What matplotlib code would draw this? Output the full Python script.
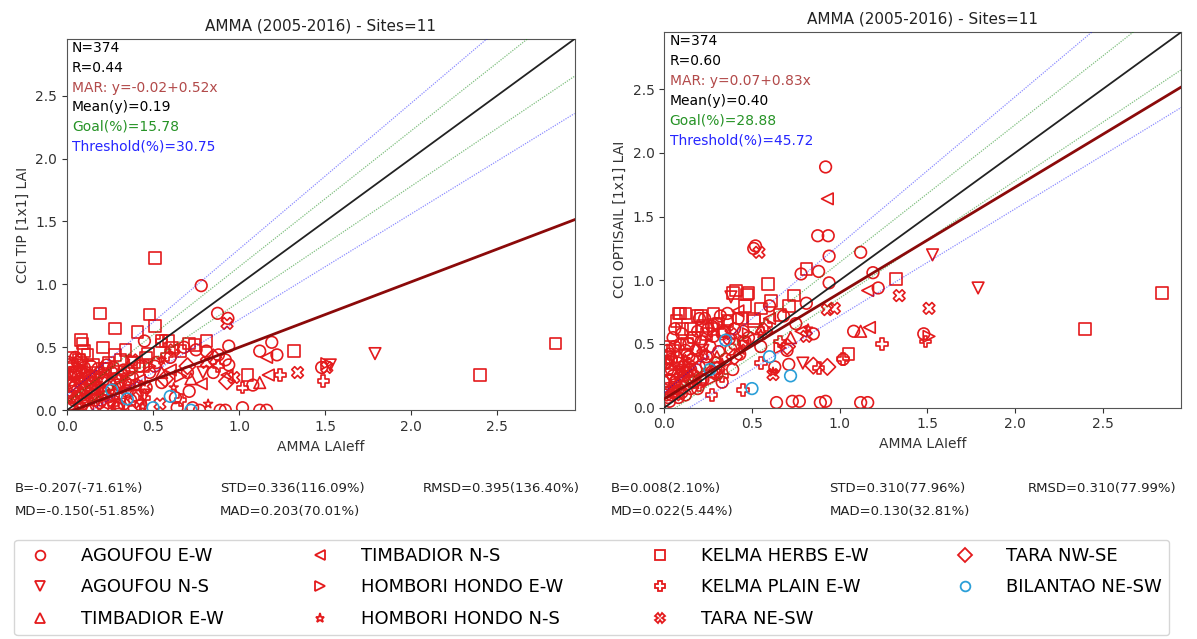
import numpy as np
import matplotlib.pyplot as plt
from matplotlib.lines import Line2D

# ground LAIeff (x) shared by both products, CCI TIP (tip) and CCI OPTISAIL (opt) values
agoufou_ew_x = [0.78, 0.875, 0.935, 1.12, 1.19, 1.22, 1.48, 0.94, 0.94, 0.81, 0.71, 0.77, 0.89, 0.92,
                1.12, 1.16, 0.64, 0.73, 0.92, 0.51, 0.52, 0.88, 1.08, 1.02, 0.45, 0.68, 0.75, 0.60,
                0.70, 0.85, 0.63, 0.55, 0.48, 0.40,
                0.02, 0.03, 0.04, 0.05, 0.06, 0.07, 0.08, 0.09, 0.10, 0.11, 0.12, 0.13, 0.14, 0.15,
                0.16, 0.17, 0.18, 0.19, 0.20, 0.21, 0.22, 0.23, 0.24, 0.25, 0.26, 0.27, 0.28, 0.29,
                0.30, 0.31, 0.32, 0.33, 0.34, 0.35, 0.36, 0.37, 0.38, 0.40, 0.42, 0.43, 0.46, 0.01,
                0.01, 0.02, 0.03, 0.05, 0.06, 0.08, 0.09, 0.10, 0.12, 0.14, 0.16, 0.18, 0.20, 0.24,
                0.27, 0.30, 0.33, 0.36, 0.39,
                0.00, 0.01, 0.02, 0.03, 0.04, 0.05, 0.06, 0.07, 0.00, 0.02, 0.04, 0.06, 0.08, 0.10,
                0.11, 0.13, 0.15, 0.17, 0.19, 0.21]
agoufou_ew_tip = [0.99, 0.77, 0.73, 0.47, 0.54, 0.44, 0.34, 0.51, 0.36, 0.47, 0.15, 0.00, 0.00, 0.00,
                  0.00, 0.00, 0.02, 0.02, 0.40, 0.35, 0.38, 0.44, 0.20, 0.02, 0.55, 0.50, 0.48, 0.42,
                  0.30, 0.30, 0.10, 0.22, 0.30, 0.20,
                  0.05, 0.15, 0.28, 0.20, 0.10, 0.32, 0.25, 0.05, 0.18, 0.30, 0.08, 0.22, 0.35, 0.12,
                  0.27, 0.04, 0.18, 0.30, 0.08, 0.24, 0.14, 0.36, 0.06, 0.20, 0.30, 0.12, 0.25, 0.02,
                  0.18, 0.10, 0.28, 0.05, 0.22, 0.15, 0.32, 0.08, 0.26, 0.12, 0.35, 0.04, 0.18, 0.38,
                  0.22, 0.30, 0.02, 0.42, 0.16, 0.40, 0.12, 0.34, 0.02, 0.16, 0.08, 0.33, 0.26, 0.16,
                  0.34, 0.04, 0.32, 0.20, 0.02,
                  0.12, 0.02, 0.20, 0.35, 0.08, 0.30, 0.38, 0.14, 0.28, 0.10, 0.18, 0.26, 0.02, 0.08,
                  0.14, 0.28, 0.22, 0.12, 0.06, 0.03]
agoufou_ew_opt = [1.05, 1.35, 1.35, 1.22, 1.06, 0.94, 0.58, 1.19, 0.98, 0.82, 0.34, 0.05, 0.04, 0.05,
                  0.04, 0.04, 0.04, 0.05, 1.89, 1.25, 1.27, 1.07, 0.60, 0.38, 0.60, 0.72, 0.66, 0.80,
                  0.45, 0.58, 0.32, 0.48, 0.55, 0.50,
                  0.08, 0.22, 0.30, 0.12, 0.18, 0.40, 0.35, 0.25, 0.20, 0.32, 0.45, 0.28, 0.50, 0.15,
                  0.38, 0.25, 0.45, 0.60, 0.32, 0.52, 0.22, 0.70, 0.40, 0.62, 0.48, 0.28, 0.56, 0.35,
                  0.66, 0.44, 0.72, 0.20, 0.60, 0.38, 0.68, 0.54, 0.46, 0.62, 0.70, 0.42, 0.52, 0.10,
                  0.35, 0.45, 0.05, 0.55, 0.62, 0.15, 0.50, 0.58, 0.10, 0.40, 0.55, 0.30, 0.70, 0.34,
                  0.64, 0.26, 0.58, 0.74, 0.30,
                  0.20, 0.12, 0.30, 0.42, 0.10, 0.25, 0.48, 0.22, 0.35, 0.15, 0.38, 0.20, 0.08, 0.12,
                  0.25, 0.42, 0.30, 0.20, 0.15, 0.22]

agoufou_ns_x = [1.79, 1.53, 0.38, 0.79, 0.14, 0.22, 0.31, 0.45, 0.09]
agoufou_ns_tip = [0.45, 0.36, 0.38, 0.30, 0.26, 0.33, 0.20, 0.12, 0.36]
agoufou_ns_opt = [0.94, 1.20, 0.87, 0.35, 0.20, 0.45, 0.31, 0.48, 0.28]

timbadior_ew_x = [1.12, 0.72, 0.16, 0.05, 0.30, 0.55]
timbadior_ew_tip = [0.22, 0.25, 0.18, 0.10, 0.06, 0.30]
timbadior_ew_opt = [0.60, 0.55, 0.30, 0.15, 0.40, 0.62]

timbadior_ns_x = [1.16, 0.93, 1.17, 0.78, 0.60, 0.42, 0.21, 0.08]
timbadior_ns_tip = [0.42, 0.28, 0.28, 0.21, 0.32, 0.24, 0.12, 0.20]
timbadior_ns_opt = [0.92, 1.64, 0.63, 0.60, 0.70, 0.76, 0.42, 0.25]

hombori_ew_x = [1.51, 0.66, 0.27, 0.12, 0.48]
hombori_ew_tip = [0.37, 0.27, 0.10, 0.30, 0.35]
hombori_ew_opt = [0.56, 0.47, 0.22, 0.30, 0.58]

hombori_ns_x = [0.62, 0.82, 0.18, 0.33, 0.44, 0.06, 0.25, 0.55, 0.12]
hombori_ns_tip = [0.18, 0.05, 0.22, 0.17, 0.03, 0.25, 0.28, 0.40, 0.12]
hombori_ns_opt = [0.28, 0.62, 0.18, 0.35, 0.45, 0.10, 0.55, 0.58, 0.38]

kelma_herbs_x = [2.84, 2.40, 1.32, 0.51, 0.19, 0.28, 0.48, 0.51, 0.41, 0.21, 0.34, 0.28, 0.08, 0.09,
                 0.81, 1.05, 0.59, 0.47, 0.39, 0.46, 0.61, 0.74, 0.07, 0.12, 0.03, 0.05, 0.15, 0.24,
                 0.36, 0.44, 0.02, 0.10, 0.17, 0.31, 0.55, 0.66, 0.13, 0.04, 0.22, 0.71]
kelma_herbs_tip = [0.53, 0.28, 0.47, 1.21, 0.77, 0.65, 0.76, 0.67, 0.62, 0.50, 0.48, 0.44, 0.56, 0.53,
                   0.55, 0.28, 0.55, 0.45, 0.38, 0.42, 0.50, 0.52, 0.40, 0.44, 0.36, 0.30, 0.36, 0.38,
                   0.25, 0.35, 0.42, 0.47, 0.30, 0.40, 0.55, 0.47, 0.25, 0.20, 0.33, 0.53]
kelma_herbs_opt = [0.90, 0.62, 1.01, 0.70, 0.72, 0.74, 0.90, 0.68, 0.92, 0.72, 0.60, 0.62, 0.74, 0.74,
                   1.09, 0.42, 0.97, 0.89, 0.90, 0.80, 0.84, 0.88, 0.68, 0.74, 0.48, 0.45, 0.62, 0.58,
                   0.68, 0.70, 0.40, 0.62, 0.55, 0.66, 0.78, 0.73, 0.50, 0.35, 0.64, 0.80]

kelma_plain_x = [1.49, 1.24, 1.02, 0.55, 0.33, 0.45, 0.20, 0.12, 0.66, 0.88, 0.27, 0.58]
kelma_plain_tip = [0.23, 0.28, 0.18, 0.55, 0.30, 0.10, 0.14, 0.22, 0.08, 0.35, 0.05, 0.44]
kelma_plain_opt = [0.52, 0.50, 0.38, 0.35, 0.25, 0.14, 0.18, 0.30, 0.52, 0.31, 0.10, 0.65]

tara_nesw_x = [1.34, 0.97, 0.93, 1.51, 0.54, 0.38, 0.22, 0.62, 0.81, 0.14, 0.45]
tara_nesw_tip = [0.30, 0.26, 0.69, 0.34, 0.05, 0.40, 0.29, 0.48, 0.38, 0.24, 0.19]
tara_nesw_opt = [0.88, 0.78, 0.77, 0.78, 1.22, 0.58, 0.42, 0.26, 0.56, 0.33, 0.52]

tara_nwse_x = [0.93, 0.70, 0.30, 0.15, 0.40, 0.57, 0.08, 0.85]
tara_nwse_tip = [0.23, 0.35, 0.22, 0.16, 0.08, 0.25, 0.06, 0.42]
tara_nwse_opt = [0.32, 0.48, 0.30, 0.22, 0.40, 0.60, 0.12, 0.33]

bilantao_x = [0.26, 0.35, 0.50, 0.60, 0.72]
bilantao_tip = [0.16, 0.09, 0.02, 0.11, 0.00]
bilantao_opt = [0.30, 0.53, 0.15, 0.40, 0.25]

site_names = ['AGOUFOU E-W', 'AGOUFOU N-S', 'TIMBADIOR E-W', 'TIMBADIOR N-S', 'HOMBORI HONDO E-W',
              'HOMBORI HONDO N-S', 'KELMA HERBS E-W', 'KELMA PLAIN E-W', 'TARA NE-SW', 'TARA NW-SE',
              'BILANTAO NE-SW']
site_markers = ['o', 'v', '^', '<', '>', '*', 's', 'P', 'X', 'D', 'o']
red = '#e41a1c'
site_colors = [red] * 10 + ['#2a9fd8']

sites_x = [agoufou_ew_x, agoufou_ns_x, timbadior_ew_x, timbadior_ns_x, hombori_ew_x, hombori_ns_x,
           kelma_herbs_x, kelma_plain_x, tara_nesw_x, tara_nwse_x, bilantao_x]
sites_tip = [agoufou_ew_tip, agoufou_ns_tip, timbadior_ew_tip, timbadior_ns_tip, hombori_ew_tip,
             hombori_ns_tip, kelma_herbs_tip, kelma_plain_tip, tara_nesw_tip, tara_nwse_tip, bilantao_tip]
sites_opt = [agoufou_ew_opt, agoufou_ns_opt, timbadior_ew_opt, timbadior_ns_opt, hombori_ew_opt,
             hombori_ns_opt, kelma_herbs_opt, kelma_plain_opt, tara_nesw_opt, tara_nwse_opt, bilantao_opt]

# panel info
ylabels = ['CCI TIP [1x1] LAI', 'CCI OPTISAIL [1x1] LAI']
mar_coef = [(-0.02, 0.52), (0.07, 0.83)]
info_n = ['N=374', 'N=374']
info_r = ['R=0.44', 'R=0.60']
info_mar = ['MAR: y=-0.02+0.52x', 'MAR: y=0.07+0.83x']
info_mean = ['Mean(y)=0.19', 'Mean(y)=0.40']
info_goal = ['Goal(%)=15.78', 'Goal(%)=28.88']
info_thr = ['Threshold(%)=30.75', 'Threshold(%)=45.72']
stats_row1 = [['B=-0.207(-71.61%)', 'STD=0.336(116.09%)', 'RMSD=0.395(136.40%)'],
              ['B=0.008(2.10%)', 'STD=0.310(77.96%)', 'RMSD=0.310(77.99%)']]
stats_row2 = [['MD=-0.150(-51.85%)', 'MAD=0.203(70.01%)'],
              ['MD=0.022(5.44%)', 'MAD=0.130(32.81%)']]

# uncertainty envelopes y = x*(1 +/- k) +/- c
goal_k, goal_c = 0.08, 0.06
thr_k, thr_c = 0.16, 0.12
lim = 2.95

fig = plt.figure(figsize=(11.97, 6.39), dpi=100)
axes = [fig.add_axes([0.056, 0.358, 0.424, 0.581]),
        fig.add_axes([0.555, 0.362, 0.432, 0.588])]

for p, ax in enumerate(axes):
    yvals = sites_tip if p == 0 else sites_opt
    for xs, ys, m, c in zip(sites_x, yvals, site_markers, site_colors):
        ax.scatter(xs, ys, marker=m, s=70 if m != '*' else 45, facecolors='none',
                   edgecolors=c, linewidths=1.2, zorder=2)
    xx = np.array([0, lim])
    ax.plot(xx, xx * (1 + thr_k) + thr_c, color='blue', alpha=0.45, lw=0.9, ls=(0, (1, 1)), zorder=3)
    ax.plot(xx, xx * (1 - thr_k) - thr_c, color='blue', alpha=0.45, lw=0.9, ls=(0, (1, 1)), zorder=3)
    ax.plot(xx, xx * (1 + goal_k) + goal_c, color='green', alpha=0.5, lw=0.9, ls=(0, (1, 1)), zorder=3)
    ax.plot(xx, xx * (1 - goal_k) - goal_c, color='green', alpha=0.5, lw=0.9, ls=(0, (1, 1)), zorder=3)
    ax.plot(xx, xx, color='#222222', lw=1.3, zorder=3)
    a, b = mar_coef[p]
    ax.plot(xx, a + b * xx, color='#8b0a0a', lw=2, zorder=3)

    ax.set_xlim(0, lim)
    ax.set_ylim(0, lim)
    ax.set_xticks([0, 0.5, 1.0, 1.5, 2.0, 2.5])
    ax.set_yticks([0, 0.5, 1.0, 1.5, 2.0, 2.5])
    ax.tick_params(labelsize=10, colors='#333333')
    for s in ax.spines.values():
        s.set_color('#555555')
    ax.set_xlabel('AMMA LAIeff', fontsize=10, color='#333333')
    ax.set_ylabel(ylabels[p], fontsize=10, color='#333333')
    ax.set_title('AMMA (2005-2016) - Sites=11', fontsize=11, color='#222222')

    lines = [(info_n[p], 'black'), (info_r[p], 'black'), (info_mar[p], '#a52a2a'),
             (info_mean[p], 'black'), (info_goal[p], 'green'), (info_thr[p], 'blue')]
    for i, (t, c) in enumerate(lines):
        ax.text(0.01, 0.975 - i * 0.053, t, transform=ax.transAxes, fontsize=10, color=c,
                va='center', ha='left', alpha=0.85 if c != 'black' else 1)

# stats below the panels
stat_x = [[0.0125, 0.184, 0.353], [0.51, 0.693, 0.859]]
for p in range(2):
    for j, t in enumerate(stats_row1[p]):
        fig.text(stat_x[p][j], 0.236, t, fontsize=9.5, va='center', color='#222222')
    for j, t in enumerate(stats_row2[p]):
        fig.text(stat_x[p][j], 0.200, t, fontsize=9.5, va='center', color='#222222')

handles = [Line2D([], [], ls='none', marker=m, markersize=7 if m != '*' else 6.5,
                  markerfacecolor='none', markeredgecolor=c, markeredgewidth=1.3)
           for m, c in zip(site_markers, site_colors)]
fig.legend(handles, site_names, ncol=4, loc='lower left', mode='expand',
           bbox_to_anchor=(0.012, 0.006, 0.965, 0.154), fontsize=13, handletextpad=1.3,
           labelspacing=0.75, frameon=True, edgecolor='#cccccc', borderaxespad=0)

fig.savefig('out.png', dpi=100)
